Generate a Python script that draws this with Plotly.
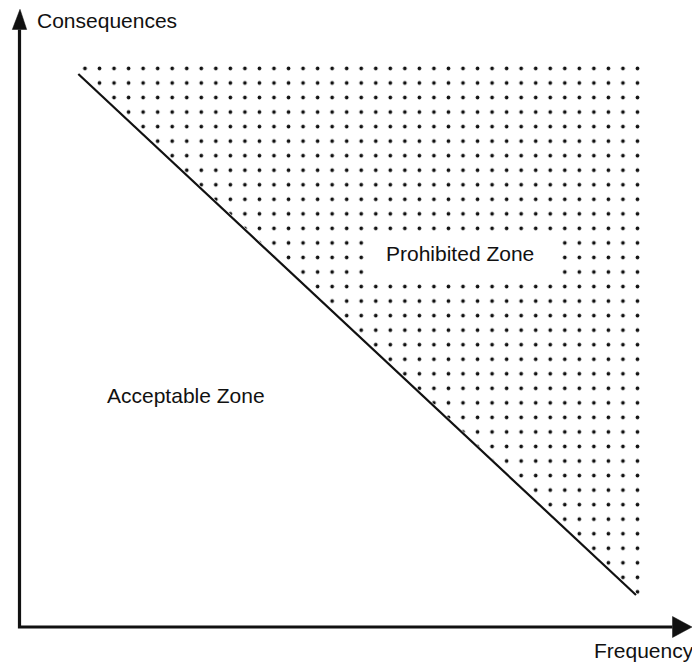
import plotly.graph_objects as go

# ---- data (units: axis origin at the corner of the two axes) ----
# boundary line between the zones
limit_freq = [58.8, 616.5]
limit_cons = [553.0, 32.0]

# prohibited zone outline (upper-right triangle, dotted)
zone_freq = [48.45, 622.5, 622.5, 48.45]
zone_cons = [565.0, 565.0, 28.7, 565.0]

# text labels
label_text = ["Consequences", "Frequency", "Prohibited Zone", "Acceptable Zone"]
label_freq = [15.7, 572.3, 364.0, 85.7]
label_cons = [606.2, -23.0, 374.0, 231.5]

# clear box behind the "Prohibited Zone" label (freq0, cons0, freq1, cons1)
label_box = [348.5, 348.0, 538.5, 391.0]

# axis extents
x_range = [-14.5, 672.5]
y_range = [-36.0, 624.0]
y_axis_top = 597.5
y_arrow_tip = 617.7
x_axis_end = 653.0
x_arrow_tip = 672.5

fig = go.Figure()

# dotted prohibited zone
fig.add_trace(go.Scatter(
    x=zone_freq, y=zone_cons, mode="lines", fill="toself",
    line=dict(width=0, color="rgba(0,0,0,0)"),
    fillcolor="rgba(0,0,0,0)",
    fillpattern=dict(shape=".", size=14.54, solidity=0.05,
                     fgcolor="#111111", bgcolor="rgba(0,0,0,0)",
                     fillmode="replace"),
    hoverinfo="skip", showlegend=False))

# boundary line
fig.add_trace(go.Scatter(
    x=limit_freq, y=limit_cons, mode="lines",
    line=dict(color="#111111", width=2.2),
    hoverinfo="skip", showlegend=False))

shapes = [
    # white box behind the prohibited-zone label
    dict(type="rect", xref="x", yref="y", layer="above",
         x0=label_box[0], y0=label_box[1], x1=label_box[2], y1=label_box[3],
         fillcolor="white", line=dict(width=0)),
    # axes (L shape)
    dict(type="path", xref="x", yref="y",
         path=f"M 0,{y_axis_top} L 0,0 L {x_axis_end},0",
         line=dict(color="#111111", width=3.2)),
    # y arrow head
    dict(type="path", xref="x", yref="y",
         path=f"M -7.2,{y_axis_top} L 7.2,{y_axis_top} L 0.5,{y_arrow_tip} Z",
         fillcolor="#111111", line=dict(color="#111111", width=0.5)),
    # x arrow head
    dict(type="path", xref="x", yref="y",
         path=f"M {x_axis_end},-10.5 L {x_axis_end},10.5 L {x_arrow_tip},0 Z",
         fillcolor="#111111", line=dict(color="#111111", width=0.5)),
]

annotations = [
    dict(text=t, x=xv, y=yv, xref="x", yref="y", showarrow=False,
         xanchor="left", yanchor="middle",
         font=dict(family="Liberation Sans, Arial, sans-serif", size=21, color="#111111"))
    for t, xv, yv in zip(label_text, label_freq, label_cons)
]

fig.update_layout(
    width=692, height=663,
    margin=dict(l=5, r=0, t=3, b=0, pad=0),
    paper_bgcolor="white", plot_bgcolor="white",
    xaxis=dict(range=x_range, visible=False, fixedrange=True),
    yaxis=dict(range=y_range, visible=False, fixedrange=True),
    shapes=shapes, annotations=annotations,
    showlegend=False,
)

fig.write_html("out.html", config={"displayModeBar": False},
               post_script="document.body.style.margin='0';document.body.style.overflow='hidden';")
